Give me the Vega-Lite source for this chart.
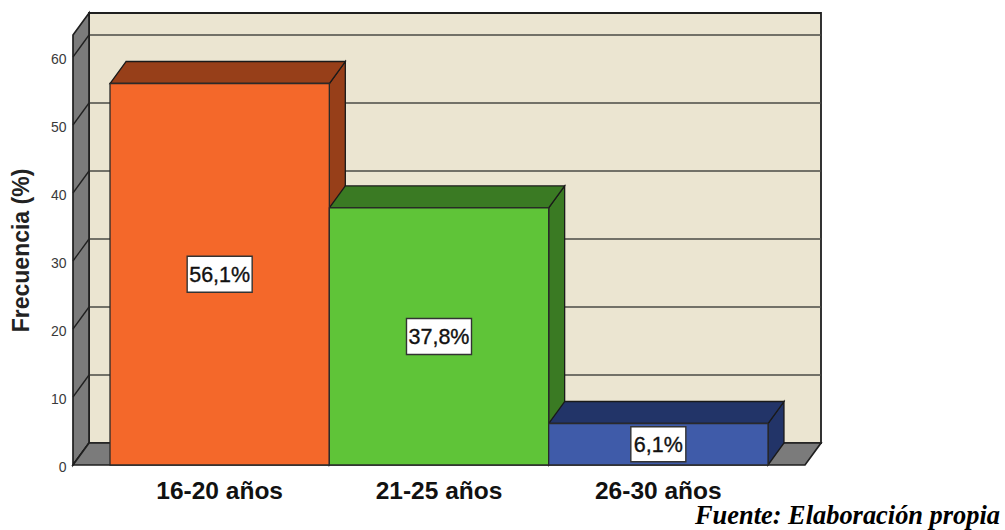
{
"$schema":"https://vega.github.io/schema/vega-lite/v6.json",
"width":748,"height":452,
"autosize":"none",
"padding":{"left":73,"top":13,"right":184,"bottom":65},
"background":"white",
"view":{"stroke":null},
"config":{"font":"Liberation Sans"},
"datasets":{
"bars":[
{"category":"16-20 años","pct":56.1,"base":0,"mid":28.05,"label":"56,1%","x0":0,"x1":1,"xMid":0.5},
{"category":"21-25 años","pct":37.8,"base":0,"mid":18.9,"label":"37,8%","x0":1,"x1":2,"xMid":1.5},
{"category":"26-30 años","pct":6.1,"base":0,"mid":3.05,"label":"6,1%","x0":2,"x1":3,"xMid":2.5}
],
"sides":[
{"category":"16-20 años","x":1,"low":0,"high":56.1},
{"category":"16-20 años","x":1.0729,"low":3.235,"high":59.335},
{"category":"21-25 años","x":2,"low":0,"high":37.8},
{"category":"21-25 años","x":2.0729,"low":3.235,"high":41.035},
{"category":"26-30 años","x":3,"low":0,"high":6.1},
{"category":"26-30 años","x":3.0729,"low":3.235,"high":9.335}
],
"tops":[
{"category":"16-20 años","y":56.1,"xa":0,"xb":1},
{"category":"16-20 años","y":59.335,"xa":0.0729,"xb":1.0729},
{"category":"21-25 años","y":37.8,"xa":1,"xb":2},
{"category":"21-25 años","y":41.035,"xa":1.0729,"xb":2.0729},
{"category":"26-30 años","y":6.1,"xa":2,"xb":3},
{"category":"26-30 años","y":9.335,"xa":2.0729,"xb":3.0729}
],
"grid":[
{"v":0,"back":3.235,"left":-0.1687,"wall":-0.0957,"right":3.2417},
{"v":10,"back":13.235,"left":-0.1687,"wall":-0.0957,"right":3.2417},
{"v":20,"back":23.235,"left":-0.1687,"wall":-0.0957,"right":3.2417},
{"v":30,"back":33.235,"left":-0.1687,"wall":-0.0957,"right":3.2417},
{"v":40,"back":43.235,"left":-0.1687,"wall":-0.0957,"right":3.2417},
{"v":50,"back":53.235,"left":-0.1687,"wall":-0.0957,"right":3.2417},
{"v":60,"back":63.235,"left":-0.1687,"wall":-0.0957,"right":3.2417}
],
"leftWall":[{"x":-0.1687,"low":0,"high":63.235},{"x":-0.0957,"low":3.235,"high":66.47}],
"floor":[{"y":0,"xa":-0.1687,"xb":3.1687},{"y":3.235,"xa":-0.0957,"xb":3.2417}],
"backWall":[{"xa":-0.0957,"xb":3.2417,"low":3.235,"high":66.47}],
"note":[{"x":4.0578,"y":-8.68,"text":"Fuente: Elaboración propia"}]
},
"resolve":{"scale":{"color":"independent"}},
"layer":[
{"data":{"name":"backWall"},"mark":{"type":"rect","fill":"#ebe5d1","stroke":"#1f1f1f","strokeWidth":1.8},
 "encoding":{
  "x":{"field":"xa","type":"quantitative","scale":{"domain":[-0.1687,3.2417],"nice":false,"zero":false},"axis":null},
  "x2":{"field":"xb"},
  "y":{"field":"low","type":"quantitative","scale":{"domain":[0,66.47],"nice":false,"zero":false},
   "axis":{"values":[0,10,20,30,40,50,60],"grid":false,"domain":false,"ticks":false,"labelPadding":7,"labelFontSize":14,"labelOffset":2.5,"labelColor":"#3a3a3a","labelFont":"Liberation Sans",
    "title":"Frecuencia (%)","titleFontSize":23,"titleFontWeight":"bold","titleFont":"Liberation Sans","titleColor":"#222222","titlePadding":17,"titleY":237}},
  "y2":{"field":"high"}}},
{"data":{"name":"grid"},"mark":{"type":"rule","color":"#4a4a44","strokeWidth":1.6},
 "encoding":{"y":{"field":"back","type":"quantitative"},"x":{"field":"wall","type":"quantitative"},"x2":{"field":"right"}}},
{"data":{"name":"leftWall"},"mark":{"type":"area","fill":"#7b7b7b","stroke":"#1f1f1f","strokeWidth":1.7},
 "encoding":{"x":{"field":"x","type":"quantitative"},"y":{"field":"low","type":"quantitative","stack":null},"y2":{"field":"high"}}},
{"data":{"name":"grid"},"mark":{"type":"rule","color":"#1f1f1f","strokeWidth":1.3},
 "encoding":{"y":{"field":"v","type":"quantitative"},"y2":{"field":"back"},"x":{"field":"left","type":"quantitative"},"x2":{"field":"wall"}}},
{"data":{"name":"floor"},"mark":{"type":"area","orient":"horizontal","fill":"#7b7b7b","stroke":"#1f1f1f","strokeWidth":1.7},
 "encoding":{"y":{"field":"y","type":"quantitative"},"x":{"field":"xa","type":"quantitative","stack":null},"x2":{"field":"xb"}}},
{"data":{"name":"sides"},"mark":{"type":"area","stroke":"#1a1a1a","strokeWidth":1.3},
 "encoding":{"x":{"field":"x","type":"quantitative"},"y":{"field":"low","type":"quantitative","stack":null},"y2":{"field":"high"},
  "color":{"field":"category","type":"nominal","legend":null,"scale":{"domain":["16-20 años","21-25 años","26-30 años"],"range":["#973f19","#3a7a23","#223468"]}}}},
{"data":{"name":"tops"},"mark":{"type":"area","orient":"horizontal","stroke":"#1a1a1a","strokeWidth":1.3},
 "encoding":{"y":{"field":"y","type":"quantitative"},"x":{"field":"xa","type":"quantitative","stack":null},"x2":{"field":"xb"},
  "color":{"field":"category","type":"nominal","legend":null,"scale":{"domain":["16-20 años","21-25 años","26-30 años"],"range":["#973f19","#3a7a23","#223468"]}}}},
{"data":{"name":"bars"},"mark":{"type":"rect","stroke":"#2a2a2a","strokeWidth":1.3},
 "encoding":{"x":{"field":"x0","type":"quantitative"},"x2":{"field":"x1"},"y":{"field":"base","type":"quantitative"},"y2":{"field":"pct"},
  "color":{"field":"category","type":"nominal","legend":null,"scale":{"domain":["16-20 años","21-25 años","26-30 años"],"range":["#f4682a","#5fc438","#3f5ba9"]}}}},
{"data":{"name":"bars"},"transform":[{"filter":"datum.pct>10"}],"mark":{"type":"rect","width":65,"height":36,"fill":"white","stroke":"#333333","strokeWidth":1.4},
 "encoding":{"x":{"field":"xMid","type":"quantitative"},"y":{"field":"mid","type":"quantitative"}}},
{"data":{"name":"bars"},"transform":[{"filter":"datum.pct<10"}],"mark":{"type":"rect","width":55,"height":35,"fill":"white","stroke":"#333333","strokeWidth":1.4},
 "encoding":{"x":{"field":"xMid","type":"quantitative"},"y":{"field":"mid","type":"quantitative"}}},
{"data":{"name":"bars"},"mark":{"type":"text","fontSize":21.5,"color":"#111111","stroke":"#111111","strokeWidth":0.35,"font":"Liberation Sans","baseline":"middle","dy":2},
 "encoding":{"x":{"field":"xMid","type":"quantitative"},"y":{"field":"mid","type":"quantitative"},"text":{"field":"label"}}},
{"data":{"name":"bars"},"mark":{"type":"text","fontSize":24.5,"fontWeight":"bold","color":"#111111","font":"Liberation Sans","baseline":"alphabetic","dy":33.5},
 "encoding":{"x":{"field":"xMid","type":"quantitative"},"y":{"field":"base","type":"quantitative"},"text":{"field":"category"}}},
{"data":{"name":"note"},"mark":{"type":"text","fontSize":26.4,"fontWeight":"bold","fontStyle":"italic","font":"Liberation Serif","align":"right","baseline":"alphabetic","color":"#000000"},
 "encoding":{"x":{"field":"x","type":"quantitative"},"y":{"field":"y","type":"quantitative"},"text":{"field":"text"}}}
]
}
